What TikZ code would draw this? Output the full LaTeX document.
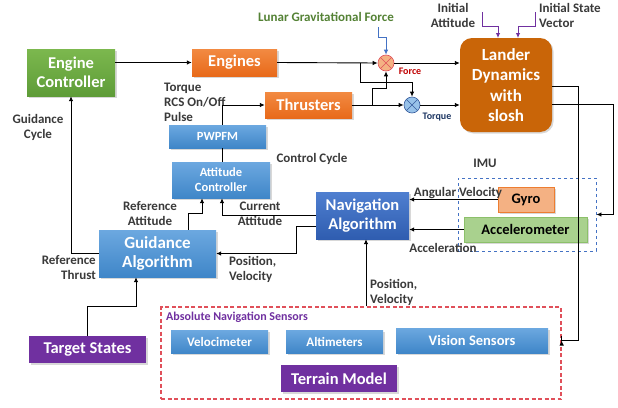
\documentclass[tikz,border=0pt]{standalone}
\usepackage{fontspec}
\setmainfont{Carlito}
\usetikzlibrary{arrows.meta,shadows,calc}
\definecolor{lbl}{HTML}{3A3A3A}
\definecolor{gtop}{HTML}{7CB84E}\definecolor{gbot}{HTML}{5E9C38}
\definecolor{otop}{HTML}{F28A42}\definecolor{obot}{HTML}{E86A1A}
\definecolor{btop}{HTML}{6CA8E0}\definecolor{bbot}{HTML}{3F86C8}
\definecolor{ntop}{HTML}{4F7FD0}\definecolor{nbot}{HTML}{2F5DB0}
\definecolor{purp}{HTML}{7030A0}
\definecolor{land}{HTML}{C96508}
\definecolor{gyrof}{HTML}{F4B183}\definecolor{gyrod}{HTML}{ED7D31}
\definecolor{accf}{HTML}{A9D18E}\definecolor{accd}{HTML}{8CC06A}
\definecolor{redd}{HTML}{E0505A}\definecolor{blued}{HTML}{4472C4}
\definecolor{gravg}{HTML}{548235}
\definecolor{forcer}{HTML}{C00000}\definecolor{torqb}{HTML}{1F3864}
\begin{document}
\begin{tikzpicture}[x=1pt,y=-1pt,
  box/.style={inner sep=0pt,align=center,font=\bfseries,text=white,
     drop shadow={shadow xshift=1.5pt,shadow yshift=-1.5pt,opacity=0.3}},
  green box/.style={box,top color=gtop,bottom color=gbot},
  orange box/.style={box,top color=otop,bottom color=obot},
  blue box/.style={box,top color=btop,bottom color=bbot},
  nav box/.style={box,top color=ntop,bottom color=nbot},
  purple box/.style={box,fill=purp},
  lab/.style={font=\fontsize{13}{15}\selectfont\bfseries,text=lbl,inner sep=0pt,align=center},
  conn/.style={draw=black,line width=0.9pt},
  arr/.style={conn,-{Latex[length=5pt,width=4.5pt]}},
  sum/.style={circle,minimum size=16pt,inner sep=0pt,draw=#1,line width=0.6pt,
     path picture={\draw[#1,line width=0.6pt] (path picture bounding box.north west)--(path picture bounding box.south east)
       (path picture bounding box.north east)--(path picture bounding box.south west);}}
]
\useasboundingbox[fill=white] (0,0) rectangle (618,407);

% boxes
\node[green box,minimum width=88pt,minimum height=47pt,font=\fontsize{16.5}{19}\selectfont\bfseries] (ec) at (71,72.5) {Engine\\Controller};
\node[orange box,minimum width=85pt,minimum height=27pt,font=\fontsize{16.5}{19}\selectfont\bfseries] (eng) at (234.5,62.5) {Engines};
\node[orange box,minimum width=87pt,minimum height=26pt,font=\fontsize{16.5}{19}\selectfont\bfseries] (thr) at (308.5,105) {Thrusters};
\node[blue box,minimum width=97pt,minimum height=23pt,font=\fontsize{12.5}{15}\selectfont\bfseries] (pw) at (217.5,136.5) {PWPFM};
\node[blue box,minimum width=98pt,minimum height=36pt,font=\fontsize{12.5}{15}\selectfont\bfseries] (att) at (221,180) {Attitude\\Controller};
\node[nav box,minimum width=93pt,minimum height=47pt,font=\fontsize{16.5}{19}\selectfont\bfseries] (nav) at (362.5,215.5) {Navigation\\Algorithm};
\node[blue box,minimum width=117pt,minimum height=47pt,font=\fontsize{17}{19}\selectfont\bfseries] (gui) at (157.5,253.5) {Guidance\\Algorithm};
\node[purple box,minimum width=117pt,minimum height=27pt,font=\fontsize{16.5}{19}\selectfont\bfseries] (tgt) at (87.5,349.5) {Target States};
\node[box,fill=land,rounded corners=12pt,minimum width=92pt,minimum height=94pt,font=\fontsize{17}{20.5}\selectfont\bfseries] (lan) at (506,85) {Lander\\Dynamics\\with\\slosh};

% IMU
\node[draw=blued,dashed,line width=0.9pt,minimum width=138pt,minimum height=73pt,inner sep=0pt] (imu) at (527,214.5) {};
\node[box,fill=gyrof,draw=gyrod,line width=0.8pt,text=black,minimum width=56pt,minimum height=25pt,font=\fontsize{14.5}{17}\selectfont\bfseries,drop shadow={opacity=0}] (gyro) at (526,199.5) {Gyro};
\node[box,fill=accf,draw=accd,line width=0.8pt,text=black,minimum width=123pt,minimum height=25pt,font=\fontsize{14.5}{17}\selectfont\bfseries,drop shadow={opacity=0}] (acc) at (525.5,229.5) {Accelerometer};
\node[lab] (imul) at (485,163) {IMU};

% absolute navigation sensors
\node[draw=redd,line width=1.3pt,dash pattern=on 4pt off 2.5pt,minimum width=400pt,minimum height=92pt,inner sep=0pt] (ans) at (361,353) {};
\node[lab,anchor=west,text=purp,font=\fontsize{12}{14}\selectfont\bfseries] (ansl) at (166,317) {Absolute Navigation Sensors};
\node[blue box,minimum width=97pt,minimum height=23pt,font=\fontsize{13}{16}\selectfont\bfseries] (vel) at (219.5,342) {Velocimeter};
\node[blue box,minimum width=97pt,minimum height=23pt,font=\fontsize{13}{16}\selectfont\bfseries] (alt) at (334.5,341.5) {Altimeters};
\node[blue box,minimum width=152pt,minimum height=25pt,font=\fontsize{14.5}{17}\selectfont\bfseries] (vis) at (472,340.5) {Vision Sensors};
\node[purple box,minimum width=116pt,minimum height=27pt,font=\fontsize{16.5}{19}\selectfont\bfseries] (ter) at (339,378.5) {Terrain Model};

% summing junctions
\node[sum=redd,fill=gyrof] (sf) at (386,63) {};
\node[sum=blued!80!black,fill=btop!70] (st) at (412,105) {};

% labels
\node[lab] (gravl) at (326,17) [text=gravg] {Lunar Gravitational Force};
\node[lab,text=forcer,font=\fontsize{10}{12}\selectfont\bfseries] (forl) at (410,71) {Force};
\node[lab,text=torqb,font=\fontsize{10}{12}\selectfont\bfseries] (torl) at (437,117) {Torque};
\node[lab] (iatt) at (453,15) {Initial\\Attitude};
\node[lab,align=left,anchor=west] (isv) at (539,15) {Initial State\\Vector};
\node[lab] (gcyc) at (38,127) {Guidance\\Cycle};
\node[lab,align=left,anchor=west] (torq) at (164,102) {Torque\\RCS On/Off\\Pulse};
\node[lab] (ccyc) at (312,159) {Control Cycle};
\node[lab] (ratt) at (150,214) {Reference\\Attitude};
\node[lab] (catt) at (260,214) {Current\\Attitude};
\node[lab,align=right,anchor=east] (rthr) at (96,268) {Reference\\Thrust};
\node[lab,align=left,anchor=west] (pv1) at (229,269.5) {Position,\\Velocity};
\node[lab,align=left,anchor=west] (pv2) at (370,292) {Position,\\Velocity};
\node[lab] (angv) at (458,193) {Angular Velocity};
\node[lab] (accl) at (443,248) {Acceleration};

% coordinates
\coordinate (b1) at (360,63);
\coordinate (b2) at (372,105);
\coordinate (g1) at (378,27);
\coordinate (ia) at (482,12);
\coordinate (is) at (535,12);
\coordinate (lo1) at (552,86);
\coordinate (lo2) at (552,104);

% connectors
\draw[arr] (eng.west -| ec.east) -- (eng.west);
\draw[arr] (eng.east) -- (sf.west);
\draw[arr] (b1) -- ++(0,19) -| (st.north);
\draw[arr] (thr.east) -- (st.west);
\draw[arr] (b2) -- ++(0,-17) -| (sf.south);
\draw[arr] (sf.east) -- (sf.east -| lan.west);
\draw[arr] (st.east) -- (st.east -| lan.west);
\draw[arr,draw=blued] (g1) -- ++(0,10) -| (sf.north);
\draw[arr,draw=purp] (ia) -- ++(0,14) -| (498,38);
\draw[arr,draw=purp] (is) -- ++(0,14) -| (518,38);
\draw[arr] (lo1) -- ++(26,0) |- (ans.east |- vis.east) -- (ans.east |- vis.east);
\draw[arr] (lo2) -- ++(61,0) |- (imu.east);
\draw[arr] (gyro.west) -- (gyro.west -| nav.east);
\draw[arr] (acc.west) -- (acc.west -| nav.east);
\draw[arr] (ans.north -| 366,0) -- (366,239 |- nav.south);
\draw[arr] ($(nav.west)+(0,-0.5)$) -| (att.south -| 222,0);
\draw[arr] ($(nav.west)+(0,10.5)$) -- (296,226) |- (gui.east);
\draw[arr] (gui.north -| 188,0) |- (202,213) -- (att.south -| 202,0);
\draw[arr] (gui.west) -| (ec.south);
\draw[arr] (tgt.north) |- (136,306) -- (gui.south -| 136,0);
\draw[conn] (att.north -| 222,0) -- (pw.south -| 222,0);
\draw[arr] (pw.north -| 222,0) |- (thr.west);
\end{tikzpicture}
\end{document}
